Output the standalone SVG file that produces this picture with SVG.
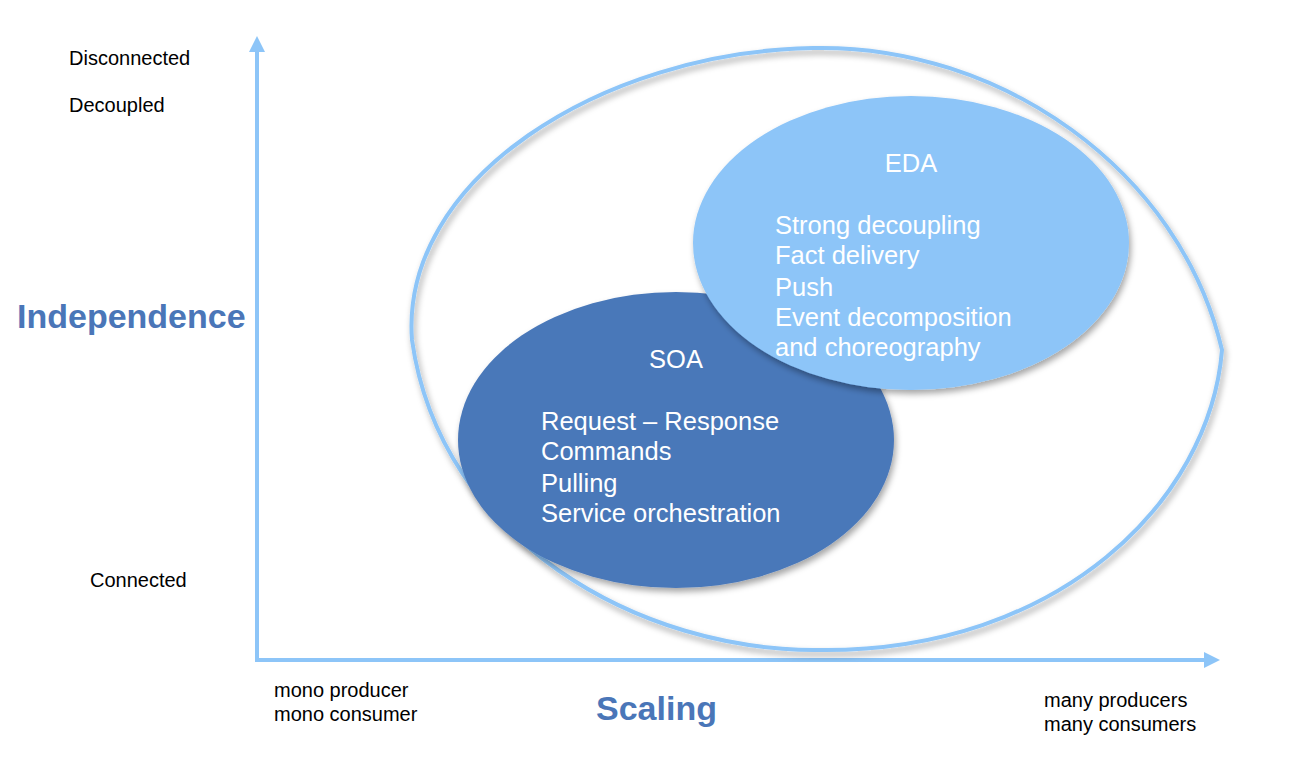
<svg xmlns="http://www.w3.org/2000/svg" width="1296" height="758" viewBox="0 0 1296 758">
<defs>
<filter id="sh" x="-10%" y="-10%" width="130%" height="130%">
<feDropShadow dx="2" dy="4" stdDeviation="3" flood-color="#000" flood-opacity="0.35"/>
</filter>
<marker id="ah" markerWidth="16" markerHeight="16" refX="12" refY="8" orient="auto" markerUnits="userSpaceOnUse">
<path d="M0,0 L16,8 L0,16 Z" fill="#8DC5F8"/>
</marker>
<style>
.lbl{font-family:"Liberation Sans",Arial,sans-serif;font-size:20px;fill:#000}
.ttl{font-family:"Liberation Sans",Arial,sans-serif;font-size:34px;font-weight:bold;fill:#4A76B8}
.in{font-family:"Liberation Sans",Arial,sans-serif;font-size:25.5px;fill:#fff}
.axis{stroke:#8DC5F8;stroke-width:4;fill:none}
</style>
</defs>
<rect width="1296" height="758" fill="#fff"/>
<g id="connectors">
<path class="axis" d="M257,660 L257,40" marker-end="url(#ah)"/>
<path class="axis" d="M255,660 L1216,660" marker-end="url(#ah)"/>
</g>
<g id="outline">
<path d="M813,48 C1000,44 1180,170 1222,350 C1210,500 1060,652 820,650 C640,652 440,540 412,340 C400,180 600,52 813,48 Z" fill="none" stroke="#8DC5F8" stroke-width="4" filter="url(#sh)"/>
</g>
<g id="soa">
<ellipse cx="676" cy="440" rx="218" ry="148" fill="#4A78B9" filter="url(#sh)"/>
<text class="in" x="676" y="368" text-anchor="middle">SOA</text>
<text class="in" x="541" y="430">Request – Response</text>
<text class="in" x="541" y="460">Commands</text>
<text class="in" x="541" y="492">Pulling</text>
<text class="in" x="541" y="522">Service orchestration</text>
</g>
<g id="eda">
<ellipse cx="911" cy="243" rx="218" ry="147" fill="#8DC5F8" filter="url(#sh)"/>
<text class="in" x="911" y="172" text-anchor="middle">EDA</text>
<text class="in" x="775" y="234">Strong decoupling</text>
<text class="in" x="775" y="264">Fact delivery</text>
<text class="in" x="775" y="296">Push</text>
<text class="in" x="775" y="326">Event decomposition</text>
<text class="in" x="775" y="356">and choreography</text>
</g>
<g id="labels">
<text class="lbl" x="69" y="65">Disconnected</text>
<text class="lbl" x="69" y="112">Decoupled</text>
<text class="ttl" x="17" y="328">Independence</text>
<text class="lbl" x="90" y="587">Connected</text>
<text class="lbl" x="274" y="697">mono producer</text>
<text class="lbl" x="274" y="721">mono consumer</text>
<text class="ttl" x="596" y="720">Scaling</text>
<text class="lbl" x="1044" y="707">many producers</text>
<text class="lbl" x="1044" y="731">many consumers</text>
</g>
</svg>
